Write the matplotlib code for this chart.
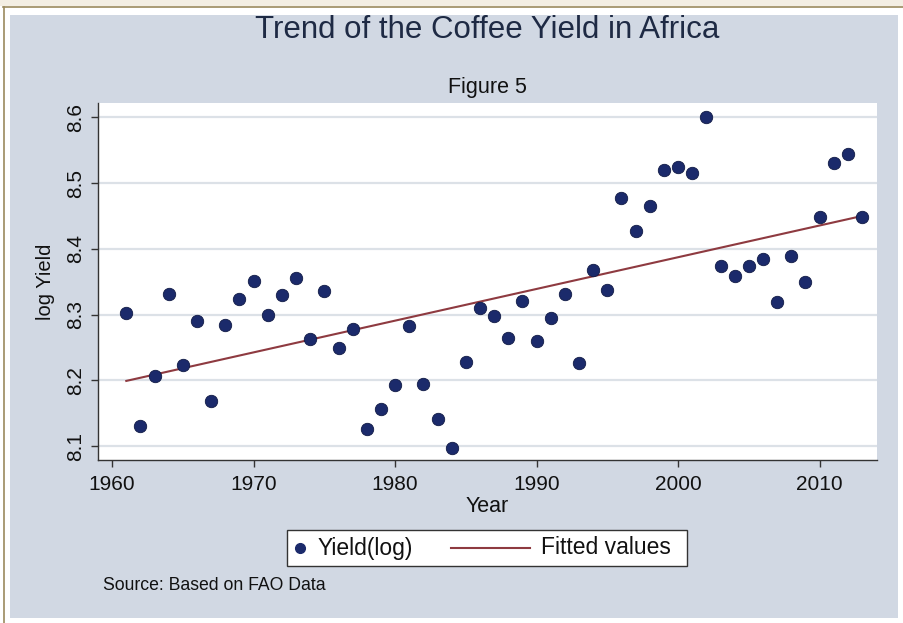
import numpy as np
import matplotlib.pyplot as plt
from matplotlib.patches import Rectangle
from matplotlib.lines import Line2D

plt.rcParams['font.family'] = ['Liberation Sans', 'DejaVu Sans']

# Coffee yield in Africa (log), FAO data
years = list(range(1961, 2014))
log_yield = [
    8.302, 8.130, 8.207, 8.332, 8.223, 8.291, 8.168, 8.284, 8.324, 8.352,
    8.299, 8.330, 8.356, 8.263, 8.336, 8.249, 8.279, 8.126, 8.156, 8.193,
    8.283, 8.194, 8.142, 8.098, 8.228, 8.310, 8.298, 8.265, 8.321, 8.260,
    8.295, 8.332, 8.226, 8.368, 8.337, 8.477, 8.427, 8.465, 8.520, 8.525,
    8.515, 8.601, 8.374, 8.359, 8.374, 8.385, 8.320, 8.390, 8.349, 8.448,
    8.531, 8.545, 8.448,
]
x_ticks = [1960, 1970, 1980, 1990, 2000, 2010]
y_ticks = [8.1, 8.2, 8.3, 8.4, 8.5, 8.6]
legend_labels = ['Yield(log)', 'Fitted values']

W, H = 904, 623
PANEL = '#d1d8e3'
NAVY = '#1b2a6b'
MAROON = '#8e3a40'
INK = '#111111'

fig = plt.figure(figsize=(W / 100, H / 100), dpi=100)
fig.patch.set_facecolor('white')


def px(x, y):
    """pixel (from top-left) -> figure fraction"""
    return x / W, 1 - y / H


# page trim: cream strip, brown rule, bluish-grey graph panel
fig.add_artist(Rectangle((0, 1 - 6 / H), 1, 6 / H, transform=fig.transFigure,
                         facecolor='#f3eee3', edgecolor='none', zorder=0))
fig.add_artist(Line2D([3 / W, 1], [1 - 6.5 / H] * 2, transform=fig.transFigure,
                      color='#9b8a5e', lw=1.2))
fig.add_artist(Line2D([4 / W] * 2, [0, 1 - 6.5 / H], transform=fig.transFigure,
                      color='#9b8a5e', lw=1.2))
fig.add_artist(Rectangle(px(10, 618), 888 / W, 603 / H, transform=fig.transFigure,
                         facecolor=PANEL, edgecolor='none', zorder=0))

l, b = px(98, 460)
r, t = px(877, 103)
ax = fig.add_axes([l, b, r - l, t - b])
ax.set_facecolor('white')

ax.set_xlim(1959.0, 2014.06)
ax.set_ylim(8.079, 8.622)
ax.set_xticks(x_ticks)
ax.set_yticks(y_ticks)
ax.set_yticklabels([f'{v:.1f}' for v in y_ticks], rotation=90, va='center')
ax.tick_params(axis='both', direction='out', length=5, width=1, color='#333333',
               labelsize=15, labelcolor=INK)
ax.tick_params(axis='x', pad=6)
ax.tick_params(axis='y', pad=4)
ax.grid(axis='y', color='#dce1e7', lw=1.6)
ax.set_axisbelow(True)
for side in ('top', 'right'):
    ax.spines[side].set_visible(False)
for side in ('left', 'bottom'):
    ax.spines[side].set_color('#333333')
    ax.spines[side].set_linewidth(1)

ax.scatter(years, log_yield, s=80, color=NAVY, edgecolor='#101a45', lw=0.6,
           zorder=3)

# OLS trend line
coef = np.polyfit(years, log_yield, 1)
fitted = np.polyval(coef, years)
ax.plot(years, fitted, color=MAROON, lw=1.5, zorder=2)

ax.set_xlabel('Year', fontsize=15.5, labelpad=1, color=INK)
ax.set_ylabel('log Yield', fontsize=14.5, labelpad=8, color=INK)

fig.text(*px(487, 30), 'Trend of the Coffee Yield in Africa', ha='center',
         va='center', fontsize=22.5, color='#1e2a44')
fig.text(*px(487, 88), 'Figure 5', ha='center', va='center', fontsize=15.5,
         color=INK)

# legend box below the axes: dot, label, line, label
fig.add_artist(Rectangle(px(287, 566), 400 / W, 36 / H, transform=fig.transFigure,
                         facecolor='white', edgecolor='#333333', lw=1, zorder=2))
fig.add_artist(Line2D([300 / W], [1 - 548 / H], transform=fig.transFigure,
                      ls='none', marker='o', ms=7, color=NAVY, zorder=3))
fig.add_artist(Line2D([451 / W, 530 / W], [1 - 548 / H] * 2,
                      transform=fig.transFigure, color=MAROON, lw=1.5, zorder=3))
fig.text(*px(318, 548), legend_labels[0], ha='left', va='center',
         fontsize=16.5, color=INK, zorder=4)
fig.text(*px(541, 548), legend_labels[1], ha='left', va='center',
         fontsize=16.5, color=INK, zorder=4)

fig.text(*px(103, 586), 'Source: Based on FAO Data', ha='left', va='center',
         fontsize=12.7, color=INK)

fig.savefig('out.png', dpi=100, facecolor=fig.get_facecolor())
